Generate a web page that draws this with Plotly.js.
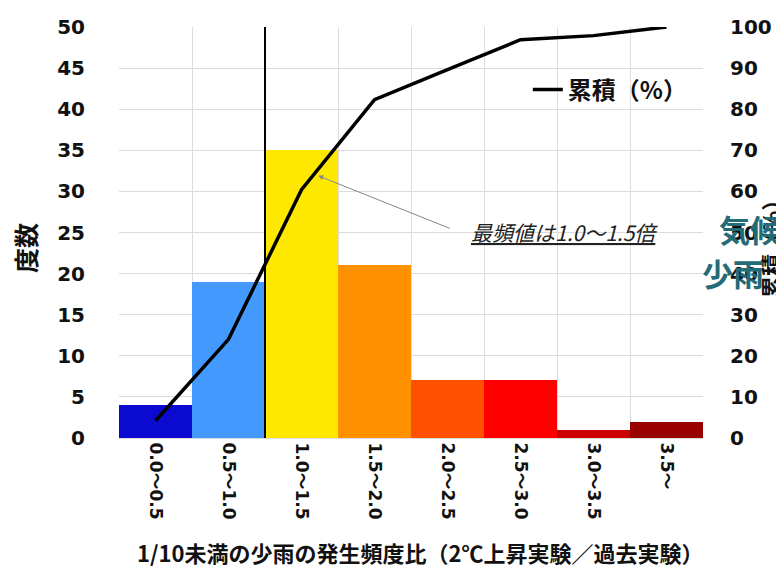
<!DOCTYPE html>
<html>
<head>
<meta charset="utf-8">
<script src="https://cdn.plot.ly/plotly-3.0.1.min.js"></script>
<style>html,body{margin:0;padding:0;background:#fff;}#chart{width:776px;height:569px;}</style>
</head>
<body>
<div id="chart"></div>
<script>
// Data
const categories = ["0.0～0.5","0.5～1.0","1.0～1.5","1.5～2.0","2.0～2.5","2.5～3.0","3.0～3.5","3.5～"];
const counts = [4, 19, 35, 21, 7, 7, 1, 2];
const cumulativePct = [4.2, 24.0, 60.4, 82.3, 89.6, 96.9, 97.9, 100];
const barColors = ["#0a0ad0","#4499ff","#ffe800","#ff9000","#ff5000","#ff0000","#cc0000","#990000"];
const leftTicks = [0,5,10,15,20,25,30,35,40,45,50];
const rightTicks = [0,10,20,30,40,50,60,70,80,90,100];

const FONT = "DejaVu Sans, 'Noto Sans CJK JP', sans-serif";
const JFONT = "'Noto Sans CJK JP', DejaVu Sans, sans-serif";

const traces = [
  {
    type: 'bar', x: categories, y: counts,
    marker: {color: barColors, line: {width: 0}},
    showlegend: false, hoverinfo: 'skip'
  },
  {
    type: 'scatter', mode: 'lines', x: categories, y: cumulativePct, yaxis: 'y2',
    name: '累積（%）', line: {color: '#000', width: 3.5}
  }
];

const layout = {
  width: 776, height: 569,
  margin: {l: 119, r: 73, t: 27, b: 131},
  paper_bgcolor: '#fff', plot_bgcolor: '#fff',
  bargap: 0,
  font: {family: FONT, color: '#111'},
  xaxis: {
    type: 'category', tickson: 'boundaries',
    showgrid: true, gridcolor: '#dcdcdc', gridwidth: 1,
    showline: true, linecolor: '#dcdcdc',
    ticks: 'outside', ticklen: 9, tickcolor: 'rgba(0,0,0,0)',
    tickangle: 90,
    tickfont: {family: FONT, size: 17, weight: 'bold', color: '#111'},
    fixedrange: true
  },
  yaxis: {
    range: [0, 50], tickvals: leftTicks,
    showgrid: true, gridcolor: '#dcdcdc', gridwidth: 1, zeroline: false,
    ticks: 'outside', ticklen: 29, tickcolor: 'rgba(0,0,0,0)',
    tickfont: {family: FONT, size: 20, weight: 'bold', color: '#111'},
    fixedrange: true
  },
  yaxis2: {
    range: [0, 100], tickvals: rightTicks, overlaying: 'y', side: 'right',
    showgrid: false, zeroline: false,
    ticks: 'outside', ticklen: 22, tickcolor: 'rgba(0,0,0,0)',
    tickfont: {family: FONT, size: 20, weight: 'bold', color: '#111'},
    fixedrange: true
  },
  showlegend: true,
  legend: {
    x: 0.70, y: 0.847, xanchor: 'left', yanchor: 'middle',
    bgcolor: 'rgba(0,0,0,0)', itemwidth: 30,
    font: {family: JFONT, size: 24, weight: 'bold', color: '#111'}
  },
  shapes: [
    {type: 'line', xref: 'x', yref: 'paper', x0: 1.5, x1: 1.5, y0: 0, y1: 1,
     line: {color: '#000', width: 2}}
  ],
  annotations: [
    {xref: 'x', yref: 'y', x: 2.23, y: 31.9, ax: 135, ay: 54, text: ' ',
     showarrow: true, arrowhead: 2, arrowsize: 1, arrowwidth: 1, arrowcolor: '#888'},
    {xref: 'paper', yref: 'paper', x: (469-119)/584, y: (438-232)/411, xanchor: 'left', yanchor: 'middle',
     text: '<i><u>最頻値は1.0～1.5倍</u></i>', showarrow: false,
     font: {family: JFONT, size: 21, color: '#222'}},
    {xref: 'paper', yref: 'paper', x: (25-119)/584, y: (438-248)/411, xanchor: 'center', yanchor: 'middle',
     text: '度数', textangle: -90, showarrow: false,
     font: {family: JFONT, size: 25, weight: 'bold', color: '#111'}},
    {xref: 'paper', yref: 'paper', x: (420-119)/584, y: (438-552)/411, xanchor: 'center', yanchor: 'middle',
     text: '1/10未満の少雨の発生頻度比（2℃上昇実験／過去実験）', showarrow: false,
     font: {family: JFONT, size: 22, weight: 'bold', color: '#111'}},
    {xref: 'paper', yref: 'paper', x: (770-119)/584, y: (438-244)/411, xanchor: 'center', yanchor: 'middle',
     text: '累積（%）', textangle: -90, showarrow: false,
     font: {family: JFONT, size: 22, weight: 'bold', color: '#111'}},
    {xref: 'paper', yref: 'paper', x: (717-119)/584, y: (438-229)/411, xanchor: 'left', yanchor: 'middle',
     text: '気候', showarrow: false,
     font: {family: JFONT, size: 31, weight: 'bold', color: '#236b77'}},
    {xref: 'paper', yref: 'paper', x: (700-119)/584, y: (438-272)/411, xanchor: 'left', yanchor: 'middle',
     text: '少雨', showarrow: false,
     font: {family: JFONT, size: 31, weight: 'bold', color: '#236b77'}}
  ]
};

Plotly.newPlot('chart', traces, layout, {displayModeBar: false, staticPlot: true});
</script>
</body>
</html>
